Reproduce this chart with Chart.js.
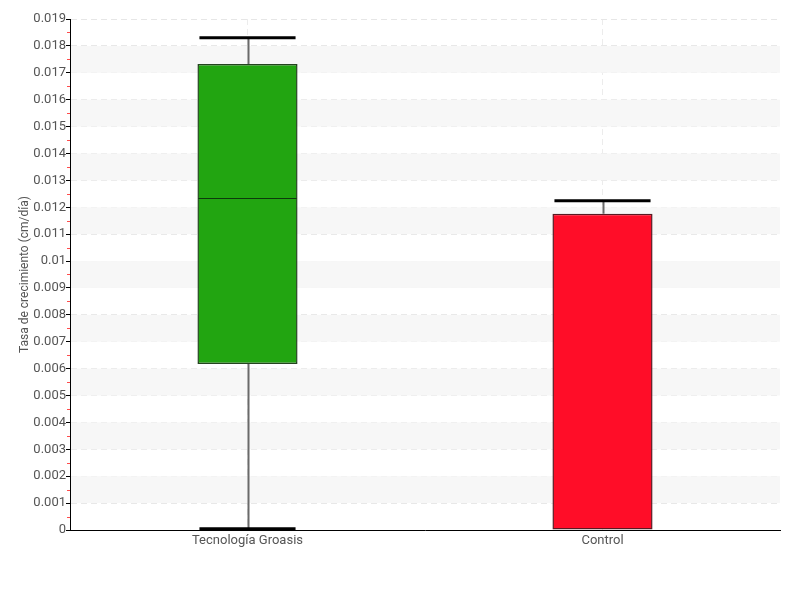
<!DOCTYPE html>
<html>
<head>
<meta charset="utf-8">
<script src="https://cdn.jsdelivr.net/npm/chart.js@4/dist/chart.umd.min.js"></script>
<style>
  html, body { margin: 0; padding: 0; background: #fff; }
  #wrap { width: 800px; height: 600px; }
</style>
</head>
<body>
<div id="wrap"><canvas id="box-chart"></canvas></div>
<script>
// datos del box plot
const categories = ['Tecnología Groasis', 'Control'];
const whiskerLow = [0.00003, 0];
const q1 = [0.00617, 0];
const median = [0.01235, 0];
const q3 = [0.01733, 0.01176];
const whiskerHigh = [0.01830, 0.01224];
const boxColors = ['#22a511', '#ff0d28'];
const boxBorders = ['#24441f', '#5a1a22'];

const yMax = 0.019;
const yStep = 0.001;
const fontFamily = "Roboto, 'DejaVu Sans', sans-serif";

// franjas grises alternas
const bandsPlugin = {
  id: 'bands',
  beforeDatasetsDraw(chart) {
    const { ctx, chartArea, scales } = chart;
    ctx.save();
    ctx.fillStyle = '#f7f7f7';
    for (let v = yStep; v < yMax; v += 2 * yStep) {
      const top = scales.y.getPixelForValue(v + yStep);
      const bottom = scales.y.getPixelForValue(v);
      ctx.fillRect(chartArea.left + 1, top, chartArea.right - chartArea.left - 1, bottom - top);
    }
    ctx.restore();
  }
};

// ticks menores rojos
const minorTicksPlugin = {
  id: 'minorTicks',
  afterDraw(chart) {
    const { ctx, chartArea, scales } = chart;
    ctx.save();
    ctx.strokeStyle = 'rgba(255,0,0,0.7)';
    ctx.lineWidth = 1;
    for (let v = yStep / 2; v < yMax; v += yStep) {
      const y = Math.round(scales.y.getPixelForValue(v)) + 0.5;
      ctx.beginPath();
      ctx.moveTo(chartArea.left - 3, y);
      ctx.lineTo(chartArea.left, y);
      ctx.stroke();
    }
    ctx.restore();
  }
};

// bigotes, tapas y mediana
const whiskerPlugin = {
  id: 'whiskers',
  beforeDatasetsDraw(chart) {
    const { ctx, scales } = chart;
    const meta = chart.getDatasetMeta(0);
    ctx.save();
    meta.data.forEach((bar, i) => {
      const x = Math.round(bar.x) + 0.5;
      const capHalf = bar.width / 2 - 2;
      const yh = scales.y.getPixelForValue(whiskerHigh[i]);
      const yl = scales.y.getPixelForValue(whiskerLow[i]);
      ctx.strokeStyle = '#6a6a6a';
      ctx.lineWidth = 2;
      ctx.beginPath();
      ctx.moveTo(x, yh);
      ctx.lineTo(x, scales.y.getPixelForValue(q3[i]));
      ctx.moveTo(x, scales.y.getPixelForValue(q1[i]));
      ctx.lineTo(x, yl);
      ctx.stroke();
      // tapas
      ctx.strokeStyle = '#000';
      ctx.lineWidth = 3;
      ctx.beginPath();
      ctx.moveTo(bar.x - capHalf, yh);
      ctx.lineTo(bar.x + capHalf, yh);
      if (whiskerLow[i] < q1[i]) {
        ctx.moveTo(bar.x - capHalf, yl - 0.5);
        ctx.lineTo(bar.x + capHalf, yl - 0.5);
      }
      ctx.stroke();
    });
    ctx.restore();
  },
  afterDatasetsDraw(chart) {
    const { ctx, scales } = chart;
    const meta = chart.getDatasetMeta(0);
    ctx.save();
    meta.data.forEach((bar, i) => {
      if (median[i] <= q1[i]) return;
      const half = bar.width / 2;
      const ym = Math.round(scales.y.getPixelForValue(median[i])) + 0.5;
      ctx.strokeStyle = '#0d3a0d';
      ctx.lineWidth = 1;
      ctx.beginPath();
      ctx.moveTo(bar.x - half + 1, ym);
      ctx.lineTo(bar.x + half - 1, ym);
      ctx.stroke();
    });
    ctx.restore();
  }
};

const ctx = document.getElementById('box-chart').getContext('2d');
new Chart(ctx, {
  type: 'bar',
  data: {
    labels: categories,
    datasets: [{
      data: categories.map((c, i) => [q1[i], q3[i]]),
      backgroundColor: boxColors,
      borderColor: boxBorders,
      borderWidth: 1.5,
      borderSkipped: false,
      barPercentage: 0.282,
      categoryPercentage: 1
    }]
  },
  options: {
    responsive: true,
    maintainAspectRatio: false,
    animation: false,
    layout: { padding: { top: 19, right: 20, left: 18, bottom: 0 } },
    plugins: {
      legend: { display: false },
      tooltip: { enabled: false }
    },
    scales: {
      x: {
        grid: { offset: false, color: '#ececec', drawTicks: false },
        border: { color: '#000', width: 1, dash: [6, 4] },
        ticks: { color: '#555', padding: 3, font: { family: fontFamily, size: 13 } },
        afterFit(scale) { scale.height = 70; }
      },
      y: {
        min: 0,
        max: yMax,
        grid: { color: '#e6e6e6', tickColor: '#000', tickLength: 4, tickBorderDash: [] },
        border: { color: '#000', width: 1, dash: [6, 4] },
        ticks: {
          stepSize: yStep,
          color: '#555',
          padding: 0,
          font: { family: fontFamily, size: 13 },
          callback: (v) => String(Number(v.toFixed(3)))
        },
        title: {
          display: true,
          text: 'Tasa de crecimiento (cm/día)',
          color: '#555',
          padding: 0,
          font: { family: fontFamily, size: 12 }
        },
        afterFit(scale) { scale.width = 52; }
      }
    }
  },
  plugins: [bandsPlugin, whiskerPlugin, minorTicksPlugin]
});
</script>
</body>
</html>
